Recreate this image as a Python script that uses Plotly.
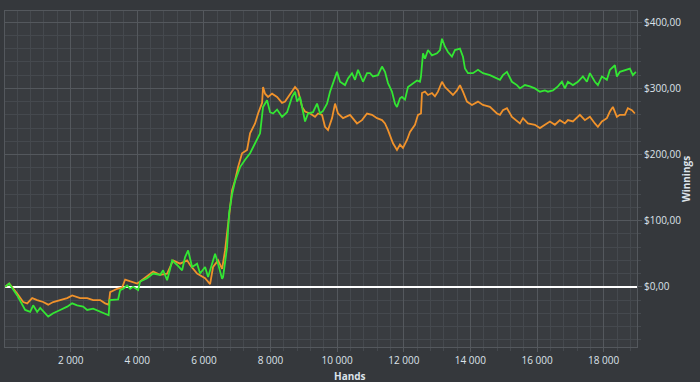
import plotly.graph_objects as go

# ---- data ----
green_hands = [36, 156, 396, 636, 786, 876, 996, 1086, 1326, 1476, 1686, 1896, 2046, 2196, 2376, 2496, 2676, 2886,
               3036, 3141, 3171, 3276, 3426, 3486, 3576, 3696, 3786, 3876, 4026, 4086, 4296, 4476, 4686, 4776,
               4896, 4986, 5046, 5196, 5346, 5436, 5526, 5646, 5796, 5886, 6036, 6126, 6336, 6426, 6546, 6576,
               6636, 6696, 6756, 6846, 6936, 7086, 7236, 7386, 7536, 7686, 7776, 7896, 7986, 8076, 8196, 8346,
               8496, 8646, 8736, 8796, 8886, 8976, 9036, 9126, 9276, 9396, 9486, 9576, 9696, 9786, 9876, 9996,
               10086, 10236, 10326, 10446, 10536, 10626, 10776, 10896, 10986, 11076, 11226, 11346, 11436, 11526,
               11646, 11736, 11796, 11886, 11946, 12036, 12126, 12276, 12396, 12486, 12516, 12576, 12636, 12726,
               12846, 12996, 13086, 13146, 13236, 13326, 13446, 13536, 13686, 13776, 13836, 13926, 14076, 14226,
               14376, 14586, 14796, 14886, 14976, 15096, 15246, 15396, 15486, 15636, 15786, 15936, 16086, 16236,
               16326, 16476, 16626, 16746, 16836, 16926, 17076, 17226, 17376, 17496, 17586, 17736, 17826, 17946,
               18096, 18186, 18336, 18396, 18486, 18636, 18786, 18876, 18966]
green_win = [0, 5, -13, -35, -38, -28, -38, -32, -45, -40, -35, -30, -25, -28, -30, -35, -33, -37,
             -41, -43, -20, -20, -19, -5, -3, 2, -3, 0, -5, 8, 13, 20, 18, 25,
             10, 27, 40, 33, 25, 45, 55, 30, 35, 20, 30, 15, 50, 35, 12, 15,
             40, 60, 111, 140, 160, 181, 192, 202, 217, 232, 272, 282, 264, 262, 268, 257,
             264, 287, 295, 280, 287, 264, 250, 262, 264, 277, 262, 266, 277, 295, 308, 325,
             310, 305, 315, 323, 313, 328, 310, 323, 323, 318, 320, 333, 325, 308,
             295, 277, 272, 285, 287, 283, 302, 307, 312, 310, 318, 353, 345, 358,
             350, 353, 358, 375, 363, 355, 348, 358, 360, 348, 330, 323, 323, 328,
             323, 320, 315, 313, 320, 325, 310, 305, 300, 305, 303, 300, 295, 297,
             295, 297, 303, 310, 300, 310, 305, 310, 318, 310, 323, 310, 305, 318,
             313, 328, 335, 318, 325, 328, 330, 320, 325]

orange_hands = [36, 156, 396, 576, 696, 846, 996, 1176, 1326, 1476, 1686, 1896, 2046, 2286, 2496, 2676, 2886,
                3036, 3141, 3186, 3396, 3546, 3636, 3786, 3996, 4086, 4386, 4476, 4686, 4896, 5076, 5286,
                5496, 5586, 5796, 5946, 6036, 6186, 6276, 6426, 6546, 6636, 6726, 6786, 6846, 6936, 7026,
                7146, 7296, 7386, 7536, 7626, 7746, 7776, 7836, 7926, 8046, 8196, 8346, 8436, 8526, 8646,
                8736, 8826, 8946, 9036, 9186, 9336, 9426, 9546, 9636, 9726, 9846, 9936, 10026, 10176, 10386,
                10596, 10746, 10896, 11046, 11196, 11346, 11436, 11526, 11676, 11796, 11886, 11976, 12096,
                12186, 12336, 12426, 12516, 12546, 12636, 12726, 12846, 12936, 13026, 13146, 13236, 13326,
                13476, 13596, 13686, 13776, 13896, 14046, 14226, 14376, 14586, 14796, 14886, 14976, 15096,
                15246, 15396, 15486, 15576, 15726, 15936, 16086, 16236, 16386, 16536, 16686, 16836, 16926,
                17076, 17196, 17286, 17436, 17586, 17736, 17826, 17946, 18096, 18186, 18276, 18396, 18486,
                18636, 18726, 18846, 18936]
orange_win = [0, 5, -10, -23, -25, -17, -20, -23, -27, -23, -20, -17, -13, -17, -17, -20, -20,
              -25, -27, -8, -3, -1, 11, 8, 5, 8, 20, 23, 18, 20, 40, 35,
              40, 33, 20, 15, 13, 4, 30, 40, 27, 55, 91, 121, 146, 161, 181,
              202, 207, 232, 247, 262, 278, 302, 292, 287, 292, 287, 278, 280, 287, 297,
              302, 297, 272, 265, 262, 257, 262, 260, 242, 237, 255, 277, 262, 255, 260,
              247, 252, 262, 260, 255, 252, 247, 237, 217, 207, 215, 210, 222,
              234, 245, 260, 262, 293, 295, 290, 293, 288, 295, 310, 302, 297,
              290, 297, 305, 295, 280, 275, 280, 275, 272, 262, 260, 267, 270,
              257, 250, 247, 255, 247, 245, 240, 245, 250, 245, 252, 247, 252,
              250, 255, 260, 252, 257, 247, 242, 250, 255, 265, 272, 257, 260,
              260, 270, 267, 262]

x_tick_vals = [2000, 4000, 6000, 8000, 10000, 12000, 14000, 16000, 18000]
x_tick_text = ["2 000", "4 000", "6 000", "8 000", "10 000", "12 000", "14 000", "16 000", "18 000"]
y_tick_vals = [0, 100, 200, 300, 400]
y_tick_text = ["$0,00", "$100,00", "$200,00", "$300,00", "$400,00"]

PAPER = "#35383c"
PLOT = "#393c40"
GRID = "#54585d"
MINOR = "#45494e"
TEXT = "#dde3ea"
FONT = "Open Sans"

fig = go.Figure()
fig.add_trace(go.Scatter(x=orange_hands, y=orange_win, mode="lines",
                         line=dict(color="#f0922b", width=1.8), hoverinfo="skip"))
fig.add_trace(go.Scatter(x=green_hands, y=green_win, mode="lines",
                         line=dict(color="#33e633", width=1.8), hoverinfo="skip"))

fig.update_layout(
    width=700, height=382,
    margin=dict(l=5, r=63, t=11, b=35),
    paper_bgcolor=PAPER, plot_bgcolor=PLOT,
    showlegend=False,
    font=dict(family=FONT, size=10, color=TEXT),
)
fig.update_xaxes(
    range=[30, 19000],
    tickvals=x_tick_vals, ticktext=x_tick_text,
    showgrid=True, gridcolor=GRID, gridwidth=1,
    ticks="outside", ticklen=4, tickcolor=GRID,
    minor=dict(dtick=400, tick0=0, showgrid=True, gridcolor=MINOR, ticks="outside",
               ticklen=3, tickcolor=MINOR),
    showline=True, linecolor=GRID, mirror=True,
    zeroline=False,
    tickfont=dict(family=FONT, size=10, color=TEXT),
)
fig.update_yaxes(
    range=[-91, 417], side="right",
    tickvals=y_tick_vals, ticktext=y_tick_text,
    showgrid=True, gridcolor=GRID, gridwidth=1,
    ticks="outside", ticklen=4, tickcolor=GRID,
    minor=dict(dtick=20, tick0=0, showgrid=True, gridcolor=MINOR, ticks="outside",
               ticklen=3, tickcolor=MINOR),
    showline=True, linecolor=GRID, mirror=True,
    zeroline=True, zerolinecolor="#ffffff", zerolinewidth=2,
    tickfont=dict(family=FONT, size=10, color=TEXT),
)

fig.add_annotation(text="<b>Hands</b>", xref="paper", yref="paper",
                   x=(350 - 5) / 632, y=-(376 - 347) / 336, showarrow=False,
                   font=dict(family=FONT, size=10, color=TEXT), yanchor="middle", xanchor="center")
fig.add_annotation(text="<b>Winnings</b>", xref="paper", yref="paper",
                   x=(686 - 5) / 632, y=(347 - 179) / 336, showarrow=False, textangle=-90,
                   font=dict(family=FONT, size=10, color=TEXT), yanchor="middle", xanchor="center")

fig.write_html("out.html")
